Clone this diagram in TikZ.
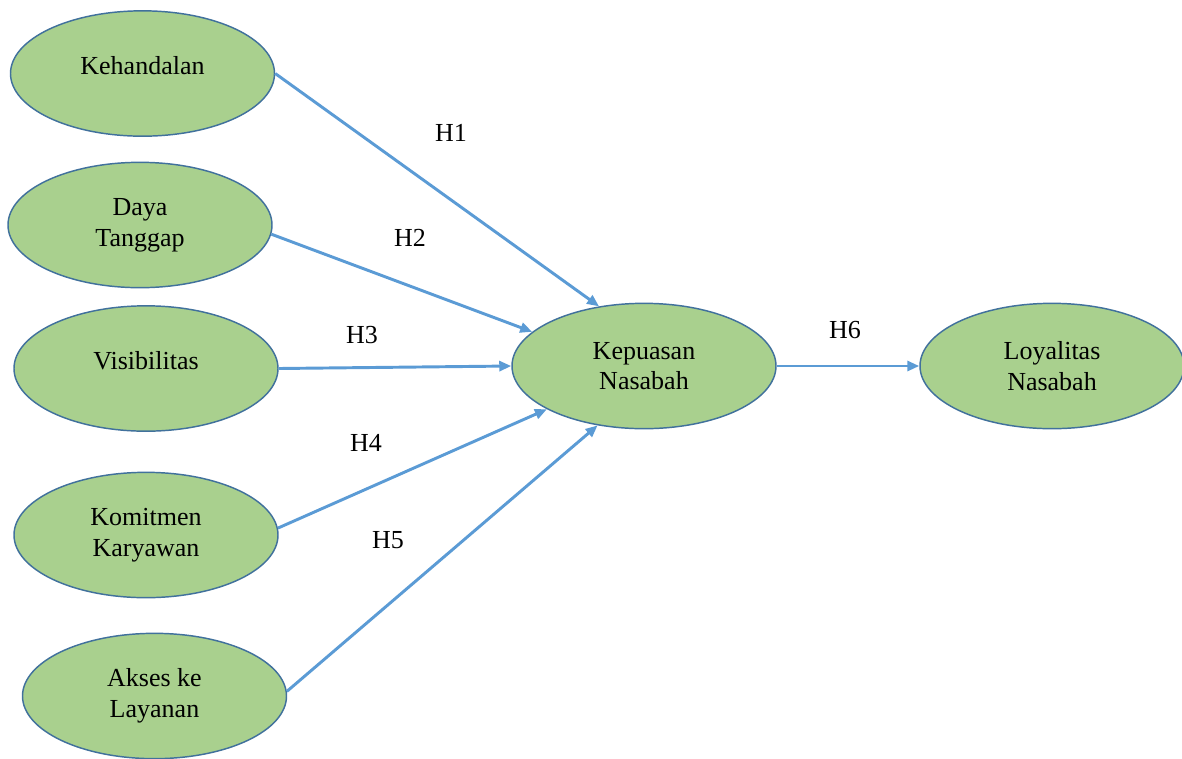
\documentclass[tikz,border=0pt]{standalone}
\usepackage{fontspec}
\setmainfont{Liberation Serif}
\newfontfamily\figfont{Liberation Serif}
\usetikzlibrary{arrows.meta,shapes.geometric}
\definecolor{figG}{RGB}{169,208,142}
\definecolor{figE}{RGB}{65,113,156}
\definecolor{figA}{RGB}{91,155,213}

\begin{document}
\begin{tikzpicture}[x=0.75pt,y=-0.75pt,>={Triangle[length=9pt,width=7.5pt]},
  latent/.style={ellipse,draw=figE,fill=figG,line width=1.1pt,minimum width=198pt,minimum height=94pt,inner sep=0pt,align=center,font=\figfont\fontsize{19.5}{23}\selectfont},
  txt/.style={align=center,font=\figfont\fontsize{19.5}{23}\selectfont},
  path/.style={->,figA,line width=2.2pt},
  hyp/.style={font=\figfont\fontsize{19.5}{23}\selectfont}]
\useasboundingbox (0,0) rectangle (1182,758);
% exogenous constructs
\node[latent] (keh) at (142.5,73.5) {};
\node[txt] at ([yshift=6pt]keh.center) {Kehandalan};
\node[latent] (daya) at (140,225) {Daya\\Tanggap};
\node[latent] (vis) at (146,368.5) {};
\node[txt] at ([yshift=6pt]vis.center) {Visibilitas};
\node[latent] (kom) at (146,535) {Komitmen\\Karyawan};
\node[latent] (akses) at (154.5,696) {Akses ke\\Layanan};
% mediator and outcome
\node[latent] (kep) at (644,366) {Kepuasan\\Nasabah};
\node[latent] (loy) at (1052,366) {Loyalitas\\Nasabah};
% hypotheses
\draw[path] (keh.east) -- (kep.127);
\draw[path] (daya.-4) -- (kep.163);
\draw[path] (vis.east) -- (kep.west);
\draw[path] (kom.3) -- (kep.204);
\draw[path] (akses.2) -- (kep.232);
\draw[path] (kep.east) -- (loy.west);
\node[hyp] (h1) at (451,133) {H1};
\node[hyp] (h2) at (410,238) {H2};
\node[hyp] (h3) at (362,335) {H3};
\node[hyp] (h4) at (366,443) {H4};
\node[hyp] (h5) at (388,540) {H5};
\node[hyp] (h6) at (845,330) {H6};
\end{tikzpicture}
\end{document}
